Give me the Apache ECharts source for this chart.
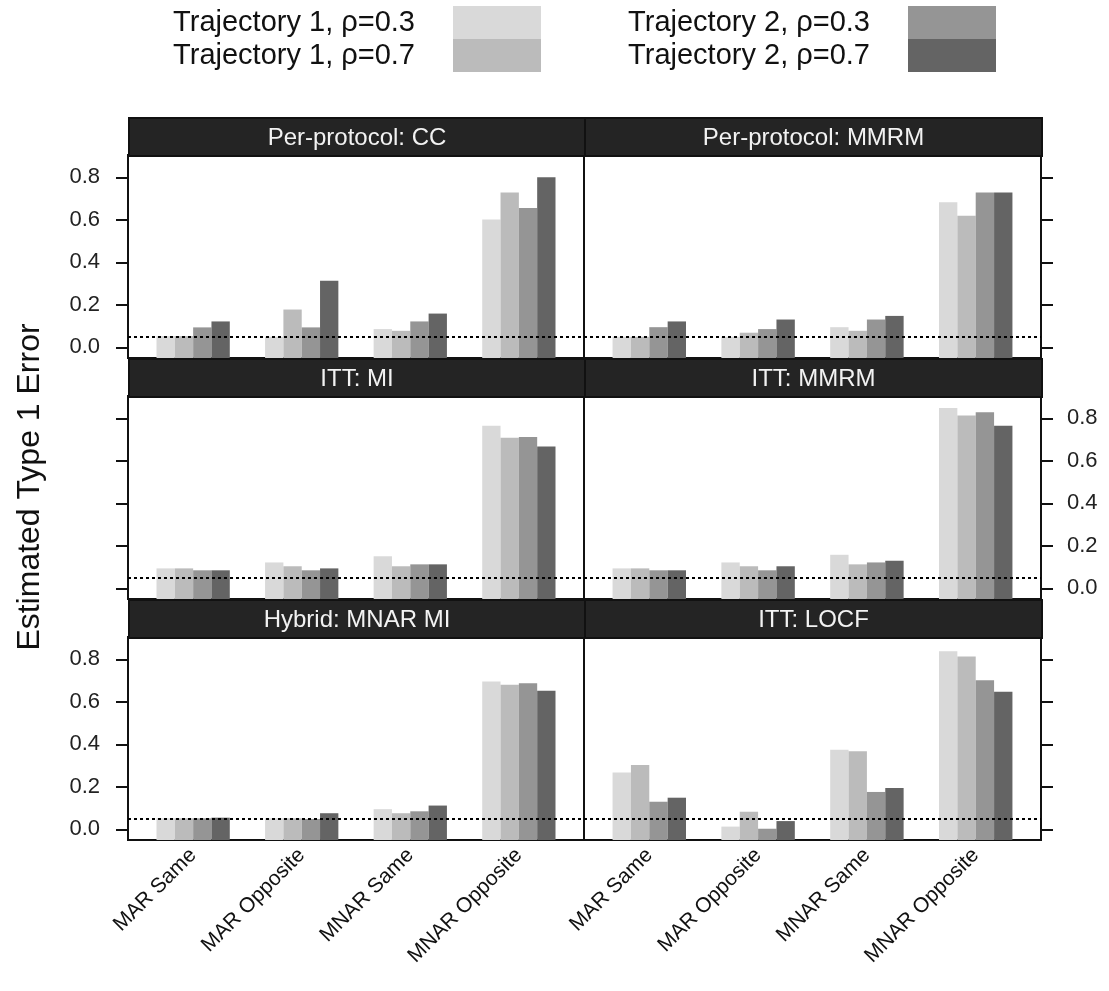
<!DOCTYPE html>
<html>
<head>
<meta charset="utf-8">
<script src="https://cdn.jsdelivr.net/npm/echarts@6/dist/echarts.min.js"></script>
<style>
  html, body { margin: 0; padding: 0; background: #fff; }
  #chart { width: 1109px; height: 991px; }
</style>
</head>
<body>
<div id="chart"></div>
<script>
// categories on the x axis
const categories = ['MAR Same', 'MAR Opposite', 'MNAR Same', 'MNAR Opposite'];
// bar groups (legend)
const seriesNames = ['Trajectory 1, ρ=0.3', 'Trajectory 1, ρ=0.7', 'Trajectory 2, ρ=0.3', 'Trajectory 2, ρ=0.7'];
const panelTitles = ['Per-protocol: CC', 'Per-protocol: MMRM', 'ITT: MI', 'ITT: MMRM', 'Hybrid: MNAR MI', 'ITT: LOCF'];
const yTicks = [0.0, 0.2, 0.4, 0.6, 0.8];
const nominalAlpha = 0.05;

// one row per legend group, one value per category
const ppCC = [
  [0.053, 0.050, 0.086, 0.602],
  [0.053, 0.178, 0.078, 0.728],
  [0.094, 0.094, 0.122, 0.656],
  [0.122, 0.313, 0.159, 0.800]
];
const ppMMRM = [
  [0.050, 0.050, 0.095, 0.683],
  [0.050, 0.069, 0.078, 0.619],
  [0.095, 0.086, 0.131, 0.728],
  [0.122, 0.131, 0.148, 0.728]
];
const ittMI = [
  [0.094, 0.122, 0.151, 0.765],
  [0.094, 0.104, 0.104, 0.709],
  [0.085, 0.085, 0.113, 0.712],
  [0.085, 0.094, 0.113, 0.668]
];
const ittMMRM = [
  [0.094, 0.122, 0.158, 0.849],
  [0.094, 0.104, 0.113, 0.813],
  [0.085, 0.085, 0.122, 0.828],
  [0.085, 0.104, 0.130, 0.765]
];
const hybridMNARMI = [
  [0.052, 0.052, 0.095, 0.696],
  [0.052, 0.052, 0.076, 0.680],
  [0.052, 0.049, 0.085, 0.688],
  [0.055, 0.076, 0.112, 0.652]
];
const ittLOCF = [
  [0.267, 0.013, 0.375, 0.838],
  [0.303, 0.083, 0.367, 0.813],
  [0.130, 0.003, 0.176, 0.701],
  [0.149, 0.039, 0.195, 0.648]
];
const panelData = [ppCC, ppMMRM, ittMI, ittMMRM, hybridMNARMI, ittLOCF];

const colors = ['#d9d9d9', '#bbbbbb', '#959595', '#646464'];
const fontFam = '"Liberation Sans", Arial, sans-serif';

// layout of the lattice
const colLeft = [128, 584];
const colWidth = [456, 457];
const plotTop = [155, 396, 637];
const plotH = 203;
const stripH = 38;
const yMin = -0.05, yMax = 0.905;
const groupWidth = 0.675; // share of one category taken by the 4 bars

const chart = echarts.init(document.getElementById('chart'), null, {renderer: 'canvas'});

// bars rise from the bottom of the panel (lattice style), not from 0
function makeRenderBar(s) {
  return function (params, api) {
    const x = api.value(0);
    const top = api.coord([x, api.value(1)]);
    const bottom = api.coord([x, yMin]);
    const w = api.size([groupWidth / 4, 0])[0];
    const left = top[0] + (s - 2) * w;
    return {
      type: 'rect',
      shape: {x: left, y: top[1], width: w, height: bottom[1] - top[1]},
      style: {fill: colors[s]}
    };
  };
}

let grids = [], xAxes = [], yAxes = [], series = [], graphics = [];

for (let p = 0; p < 6; p++) {
  const col = p % 2;
  const row = Math.floor(p / 2);
  grids.push({
    left: colLeft[col], top: plotTop[row], width: colWidth[col], height: plotH,
    show: true, borderColor: '#111', borderWidth: 2, backgroundColor: 'transparent'
  });
  xAxes.push({
    type: 'value', gridIndex: p, min: 0.4, max: 4.6,
    axisLine: {show: false}, axisTick: {show: false}, splitLine: {show: false},
    axisLabel: {
      show: row === 2,
      customValues: [1, 2, 3, 4],
      formatter: (v) => categories[Math.round(v) - 1],
      rotate: 45, margin: 12, fontSize: 21, color: '#111', fontFamily: fontFam
    }
  });
  // left ticks for column 1, right ticks for column 2; labels alternate
  const showLab = col === 0 ? (row !== 1) : (row === 1);
  yAxes.push({
    type: 'value', gridIndex: p, min: yMin, max: yMax,
    position: col === 0 ? 'left' : 'right',
    axisLine: {show: false}, splitLine: {show: false},
    axisTick: {show: true, length: 12, customValues: yTicks, lineStyle: {color: '#111', width: 2}},
    axisLabel: {
      show: showLab, customValues: yTicks, margin: col === 0 ? 28 : 26,
      formatter: (v) => v.toFixed(1),
      fontSize: 22, color: '#222', fontFamily: fontFam
    }
  });
  for (let s = 0; s < 4; s++) {
    const item = {
      type: 'custom', name: seriesNames[s], xAxisIndex: p, yAxisIndex: p,
      data: panelData[p][s].map((v, i) => [i + 1, v]),
      renderItem: makeRenderBar(s),
      itemStyle: {color: colors[s]},
      silent: true, z: 2
    };
    if (s === 3) {
      item.markLine = {
        silent: true, symbol: ['none', 'none'], label: {show: false}, z: 5,
        lineStyle: {color: '#000', type: [3, 3], width: 2},
        data: [{yAxis: nominalAlpha}]
      };
    }
    series.push(item);
  }
  // strip above each panel
  graphics.push({
    type: 'group', left: colLeft[col], top: plotTop[row] - stripH,
    children: [
      {type: 'rect', shape: {x: 0, y: 0, width: colWidth[col], height: stripH},
       style: {fill: '#242424', stroke: '#111', lineWidth: 2}},
      {type: 'text', x: colWidth[col] / 2, y: stripH / 2 + 1,
       style: {text: panelTitles[p], fill: '#f2f2f2', font: '24px ' + fontFam,
               textAlign: 'center', textVerticalAlign: 'middle'}}
    ]
  });
}

graphics.push({
  type: 'text', x: 30, y: 487, rotation: Math.PI / 2,
  style: {text: 'Estimated Type 1 Error', fill: '#111', font: '32px ' + fontFam,
          textAlign: 'center', textVerticalAlign: 'middle'}
});

const legendBase = {
  orient: 'vertical', align: 'right', top: 6, padding: 0,
  itemWidth: 88, itemHeight: 33, itemGap: 0, icon: 'rect',
  selectedMode: false,
  itemStyle: {borderWidth: 0},
  textStyle: {fontSize: 29, lineHeight: 33, color: '#111', fontFamily: fontFam, padding: [0, 33, 0, 0]}
};

const option = {
  animation: false,
  backgroundColor: '#fff',
  legend: [
    Object.assign({}, legendBase, {data: seriesNames.slice(0, 2), right: 1109 - 541}),
    Object.assign({}, legendBase, {data: seriesNames.slice(2, 4), right: 1109 - 996})
  ],
  grid: grids,
  xAxis: xAxes,
  yAxis: yAxes,
  series: series,
  graphic: graphics
};
chart.setOption(option);
</script>
</body>
</html>
